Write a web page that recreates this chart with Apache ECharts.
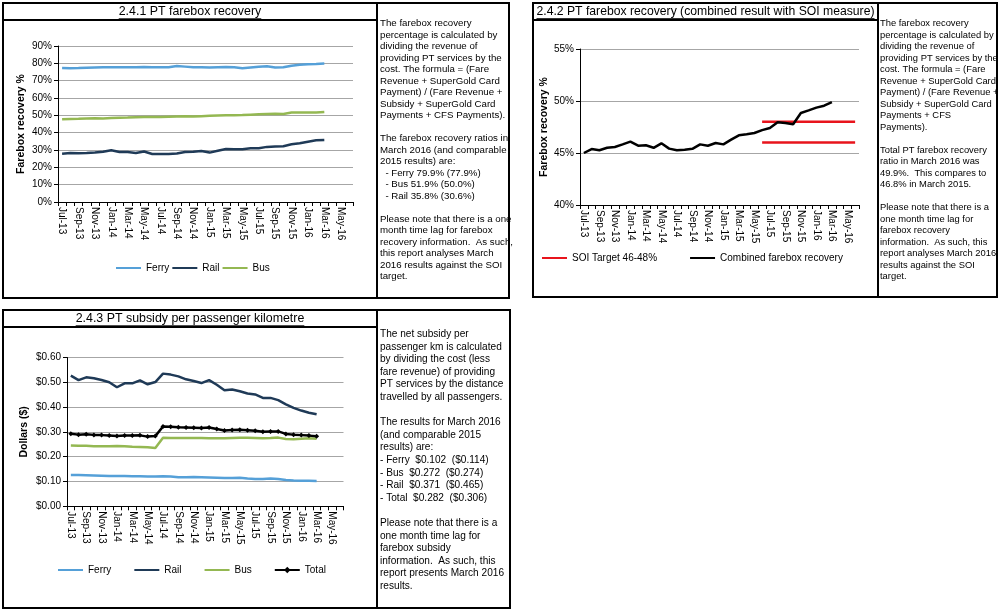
<!DOCTYPE html>
<html><head><meta charset="utf-8">
<script src="https://cdn.jsdelivr.net/npm/echarts@6/dist/echarts.min.js"></script>
<style>html,body{margin:0;padding:0;background:#fff;}#c{width:1000px;height:611px;}</style>
</head><body><div id="c"></div>
<script>
// ---------- DATA ----------
const months = ['Jul-13','Aug-13','Sep-13','Oct-13','Nov-13','Dec-13','Jan-14','Feb-14','Mar-14','Apr-14','May-14','Jun-14',
  'Jul-14','Aug-14','Sep-14','Oct-14','Nov-14','Dec-14','Jan-15','Feb-15','Mar-15','Apr-15','May-15','Jun-15',
  'Jul-15','Aug-15','Sep-15','Oct-15','Nov-15','Dec-15','Jan-16','Feb-16','Mar-16','Apr-16','May-16','Jun-16'];

// 2.4.1 farebox recovery (%)
const ferryRecovery = [77.3,77.2,77.3,77.5,77.6,77.7,77.7,77.7,77.8,77.8,77.9,77.8,77.7,77.8,78.4,78.1,77.8,77.7,77.6,77.8,77.9,77.7,77.2,77.6,78.0,78.3,77.6,77.7,78.6,79.2,79.5,79.6,79.9];
const railRecovery  = [27.9,28.3,28.1,28.2,28.5,29.0,29.8,28.9,28.8,28.3,29.1,27.7,27.7,27.7,28.0,28.8,29.0,29.4,28.5,29.6,30.6,30.4,30.5,31.0,31.0,31.8,32.0,32.2,33.3,33.9,34.8,35.6,35.8];
const busRecovery   = [47.8,47.9,48.0,48.2,48.3,48.2,48.4,48.6,48.7,48.9,49.0,49.0,49.1,49.2,49.3,49.4,49.3,49.5,49.7,49.9,50.0,50.1,50.2,50.4,50.6,50.8,50.9,50.8,51.6,51.7,51.7,51.6,51.9];

// 2.4.2 combined farebox recovery (%) and SOI target band
const combinedRecovery = [45.0,45.38,45.26,45.5,45.58,45.83,46.09,45.7,45.74,45.5,45.93,45.42,45.26,45.32,45.4,45.83,45.7,45.96,45.83,46.28,46.7,46.8,46.92,47.2,47.4,47.95,47.88,47.76,48.85,49.1,49.36,49.55,49.9];
const soiTargetLow = 46;
const soiTargetHigh = 48;
const soiFrom = 'Jun-15';
const soiTo = 'Jun-16';

// 2.4.3 subsidy per passenger km ($)
const ferrySubsidy = [0.126,0.126,0.125,0.124,0.123,0.122,0.122,0.122,0.121,0.121,0.120,0.120,0.121,0.120,0.117,0.117,0.118,0.117,0.116,0.115,0.114,0.114,0.115,0.112,0.110,0.110,0.112,0.110,0.106,0.104,0.103,0.103,0.102];
const railSubsidy  = [0.527,0.509,0.520,0.516,0.509,0.500,0.480,0.496,0.496,0.508,0.492,0.501,0.535,0.531,0.524,0.512,0.505,0.497,0.509,0.490,0.468,0.471,0.464,0.455,0.451,0.437,0.437,0.428,0.411,0.397,0.386,0.377,0.371];
const busSubsidy   = [0.245,0.244,0.244,0.242,0.242,0.242,0.243,0.242,0.240,0.239,0.238,0.235,0.276,0.275,0.275,0.275,0.275,0.275,0.274,0.274,0.274,0.275,0.276,0.276,0.275,0.274,0.275,0.277,0.271,0.270,0.272,0.274,0.272];
const totalSubsidy = [0.293,0.289,0.291,0.288,0.287,0.285,0.283,0.285,0.285,0.286,0.281,0.283,0.322,0.321,0.319,0.318,0.317,0.316,0.318,0.312,0.306,0.308,0.309,0.307,0.305,0.301,0.302,0.302,0.292,0.289,0.287,0.285,0.282];

// texts
const title1 = '2.4.1 PT farebox recovery';
const title2 = '2.4.2 PT farebox recovery (combined result with SOI measure)';
const title3 = '2.4.3 PT subsidy per passenger kilometre';
const note1 = ['The farebox recovery','percentage is calculated by','dividing the revenue of','providing PT services by the','cost. The formula = (Fare','Revenue + SuperGold Card','Payment) / (Fare Revenue +','Subsidy + SuperGold Card','Payments + CFS Payments).','',
  'The farebox recovery ratios in','March 2016 (and comparable','2015 results) are:','  - Ferry 79.9% (77.9%)','  - Bus 51.9% (50.0%)','  - Rail 35.8% (30.6%)','',
  'Please note that there is a one','month time lag for farebox','recovery information.  As such,','this report analyses March','2016 results against the SOI','target.'];
const note2 = ['The farebox recovery','percentage is calculated by','dividing the revenue of','providing PT services by the','cost. The formula = (Fare','Revenue + SuperGold Card','Payment) / (Fare Revenue +','Subsidy + SuperGold Card','Payments + CFS','Payments).','',
  'Total PT farebox recovery','ratio in March 2016 was','49.9%.  This compares to','46.8% in March 2015.','',
  'Please note that there is a','one month time lag for','farebox recovery','information.  As such, this','report analyses March 2016','results against the SOI','target.'];
const note3 = ['The net subsidy per','passenger km is calculated','by dividing the cost (less','fare revenue) of providing','PT services by the distance','travelled by all passengers.','',
  'The results for March 2016','(and comparable 2015','results) are:','- Ferry  $0.102  ($0.114)','- Bus  $0.272  ($0.274)','- Rail  $0.371  ($0.465)','- Total  $0.282  ($0.306)','',
  'Please note that there is a','one month time lag for','farebox subsidy','information.  As such, this','report presents March 2016','results.'];

// ---------- STYLE ----------
const FONT = '"Liberation Sans", Arial, sans-serif';
const C_FERRY = '#55a0d8', C_RAIL = '#1f3a57', C_BUS = '#94b852', C_BLACK = '#000', C_RED = '#e8141c';
const GRID_C = '#a6a6a6';

const soiI0 = months.indexOf(soiFrom), soiI1 = months.indexOf(soiTo);
const soiSeries = v => months.map((m, i) => (i >= soiI0 && i <= soiI1) ? v : null);

const measure = (txt, size) => { const c = document.createElement('canvas').getContext('2d'); c.font = size + 'px ' + FONT; return c.measureText(txt).width; };

function titleEls(txt, cx, cy, size) {
  const w = measure(txt, size);
  return [
    {type:'text', x:cx, y:cy, style:{text:txt, fontSize:size, fontFamily:FONT, fill:'#000', align:'center', verticalAlign:'middle'}},
    {type:'line', shape:{x1:cx - w/2, y1:cy + size*0.55, x2:cx + w/2, y2:cy + size*0.55}, style:{stroke:'#000', lineWidth:1}}
  ];
}
function panelEls(x, y, w, h, divX, titleY) {
  return [
    {type:'rect', shape:{x:x, y:y, width:w, height:h}, style:{fill:null, stroke:'#000', lineWidth:2}},
    {type:'line', shape:{x1:divX, y1:y, x2:divX, y2:y + h}, style:{stroke:'#000', lineWidth:2}},
    {type:'line', shape:{x1:x, y1:titleY, x2:divX, y2:titleY}, style:{stroke:'#000', lineWidth:2}}
  ];
}
function noteEl(lines, x, y, size, lh) {
  return {type:'text', x:x, y:y, style:{text:lines.join('\n'), fontSize:size, fontFamily:FONT, fill:'#000', lineHeight:lh}};
}

function xAxis(gi) {
  return {type:'category', gridIndex:gi, data:months, boundaryGap:true,
    axisLine:{lineStyle:{color:'#000', width:1}},
    axisTick:{show:true, interval:0, length:4, lineStyle:{color:'#000'}},
    axisLabel:{interval:1, rotate:-90, fontSize:10, fontFamily:FONT, color:'#000', margin:5},
    splitLine:{show:false}};
}
function yAxis(gi, min, max, step, fmt, name, gap) {
  return {type:'value', gridIndex:gi, min:min, max:max, interval:step,
    name:name, nameLocation:'middle', nameGap:gap, nameRotate:90,
    nameTextStyle:{fontSize:10.5, fontWeight:'bold', fontFamily:FONT, color:'#000'},
    axisLine:{show:true, lineStyle:{color:'#000'}},
    axisTick:{show:true, length:4, lineStyle:{color:'#000'}},
    axisLabel:{formatter:fmt, fontSize:10, fontFamily:FONT, color:'#000', margin:6},
    splitLine:{show:true, lineStyle:{color:GRID_C, width:1}}};
}
function lineS(name, data, color, xi, extra) {
  return Object.assign({type:'line', name:name, data:data, xAxisIndex:xi, yAxisIndex:xi,
    symbol:'none', lineStyle:{color:color, width:2.5}, itemStyle:{color:color}, animation:false}, extra || {});
}
const plain = n => ({name:n, itemStyle:{opacity:0}});
const legendBase = {orient:'horizontal', itemWidth:25, itemHeight:8, textStyle:{fontSize:10, fontFamily:FONT, color:'#000'}, padding:0, selectedMode:false};

const option = {
  animation:false,
  grid:[
    {left:58, top:46, width:295, height:156},
    {left:580, top:49, width:279, height:156},
    {left:67, top:357.5, width:276.5, height:148.8}
  ],
  xAxis:[xAxis(0), xAxis(1), xAxis(2)],
  yAxis:[
    yAxis(0, 0, 90, 10, '{value}%', 'Farebox recovery %', 31),
    yAxis(1, 40, 55, 5, '{value}%', 'Farebox recovery %', 29),
    yAxis(2, 0, 0.6, 0.1, v => '$' + v.toFixed(2), 'Dollars ($)', 37)
  ],
  legend:[
    Object.assign({}, legendBase, {left:115, top:263, itemGap:2, data:[plain('Ferry'), plain('Rail'), plain('Bus')]}),
    Object.assign({}, legendBase, {left:541, top:253, itemGap:32, data:[plain('SOI Target 46-48%'), plain('Combined farebox recovery')]}),
    Object.assign({}, legendBase, {left:57, top:565, itemGap:22, data:[plain('Ferry'), plain('Rail'), plain('Bus'), 'Total']})
  ],
  series:[
    lineS('Ferry', ferryRecovery, C_FERRY, 0),
    lineS('Rail', railRecovery, C_RAIL, 0),
    lineS('Bus', busRecovery, C_BUS, 0),
    lineS('SOI Target 46-48%', soiSeries(soiTargetHigh), C_RED, 1),
    lineS('SOI Target 46-48%', soiSeries(soiTargetLow), C_RED, 1),
    lineS('Combined farebox recovery', combinedRecovery, C_BLACK, 1),
    lineS('Ferry', ferrySubsidy, C_FERRY, 2),
    lineS('Rail', railSubsidy, C_RAIL, 2),
    lineS('Bus', busSubsidy, C_BUS, 2),
    lineS('Total', totalSubsidy, C_BLACK, 2, {symbol:'diamond', symbolSize:5, showSymbol:true})
  ],
  graphic:[].concat(
    panelEls(3, 3, 506, 295, 377, 20),
    panelEls(533, 3, 464, 294, 878, 20),
    panelEls(3, 310, 507, 298, 377, 327),
    titleEls(title1, 190, 12, 12.4),
    titleEls(title2, 705.5, 12, 12.2),
    titleEls(title3, 190, 319, 12.4),
    [noteEl(note1, 380, 18, 9.7, 11.5),
     noteEl(note2, 880, 18, 9.4, 11.5),
     noteEl(note3, 380, 328, 10.1, 12.6)]
  )
};
const chart = echarts.init(document.getElementById('c'), null, {renderer:'canvas'});
chart.setOption(option);
</script></body></html>
